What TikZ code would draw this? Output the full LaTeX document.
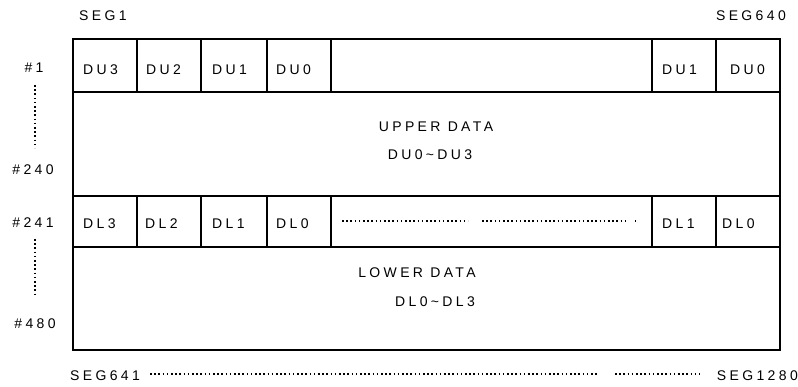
\documentclass[tikz,border=0pt]{standalone}
\usepackage{fontspec}
\setmainfont{Liberation Sans}
\usetikzlibrary{calc}
\newfontfamily\spacedfont[LetterSpace=24]{Liberation Sans}
\newcommand\wave{\char"007E\relax}
\tikzset{lbl/.style={font=\spacedfont\fontsize{14}{16}\selectfont,inner sep=0pt},
  frame/.style={line width=1.6pt},
  dots/.style={line width=1.7pt,dash pattern=on 1.6pt off 2.6pt}}

\begin{document}
\begin{tikzpicture}[x=1pt,y=-1pt]
\useasboundingbox (0,0) rectangle (798,387);
\coordinate (TL) at (73,39);
\coordinate (BR) at (780,350);
\draw[frame] (TL) rectangle (BR);
\draw[frame] (73,92) -- (780,92);
\draw[frame] (73,196) -- (780,196);
\draw[frame] (73,247) -- (780,247);
\foreach \x in {137,201,267,331,652,716} {
  \draw[frame] (\x,39) -- (\x,92);
  \draw[frame] (\x,196) -- (\x,247);
}
% column and row numbers
\node[lbl,anchor=west] (seg1) at (79,16) {SEG1};
\node[lbl,anchor=east] (seg640) at (786,16) {SEG640};
\node[lbl,anchor=west] (seg641) at (70,376) {SEG641};
\node[lbl,anchor=east] (seg1280) at (798,376) {SEG1280};
\node[lbl] (r1) at (34,68) {\#1};
\node[lbl] (r240) at (33,170) {\#240};
\node[lbl] (r241) at (33,223) {\#241};
\node[lbl] (r480) at (35,324) {\#480};
\draw[dots] (35,85) -- (35,148);
\draw[dots] (35,239) -- (35,297);
\draw[dots] (150,374) -- (597,374);
\draw[dots] (615,374) -- (700,374);
% upper cells
\node[lbl,anchor=west] (du3) at (83,70) {DU3};
\node[lbl,anchor=west] (du2) at (146,70) {DU2};
\node[lbl,anchor=west] (du1) at (212,70) {DU1};
\node[lbl,anchor=west] (du0) at (276,70) {DU0};
\node[lbl,anchor=west] (du1r) at (662,70) {DU1};
\node[lbl,anchor=west] (du0r) at (730,70) {DU0};
\node[lbl] (upper) at (436,127) {UPPER DATA};
\node[lbl] (urange) at (430,155) {DU0\wave DU3};
% lower cells
\node[lbl,anchor=west] (dl3) at (83,224) {DL3};
\node[lbl,anchor=west] (dl2) at (145,224) {DL2};
\node[lbl,anchor=west] (dl1) at (212,224) {DL1};
\node[lbl,anchor=west] (dl0) at (276,224) {DL0};
\node[lbl,anchor=west] (dl1r) at (662,224) {DL1};
\node[lbl,anchor=west] (dl0r) at (722,224) {DL0};
\draw[dots] (342,221) -- (468,221);
\draw[dots] (482,221) -- (625,221);
\draw[dots] (635,221) -- (636,221);
\node[lbl] (lower) at (417,273) {LOWER DATA};
\node[lbl] (lrange) at (435,302) {DL0\wave DL3};
\end{tikzpicture}
\end{document}
